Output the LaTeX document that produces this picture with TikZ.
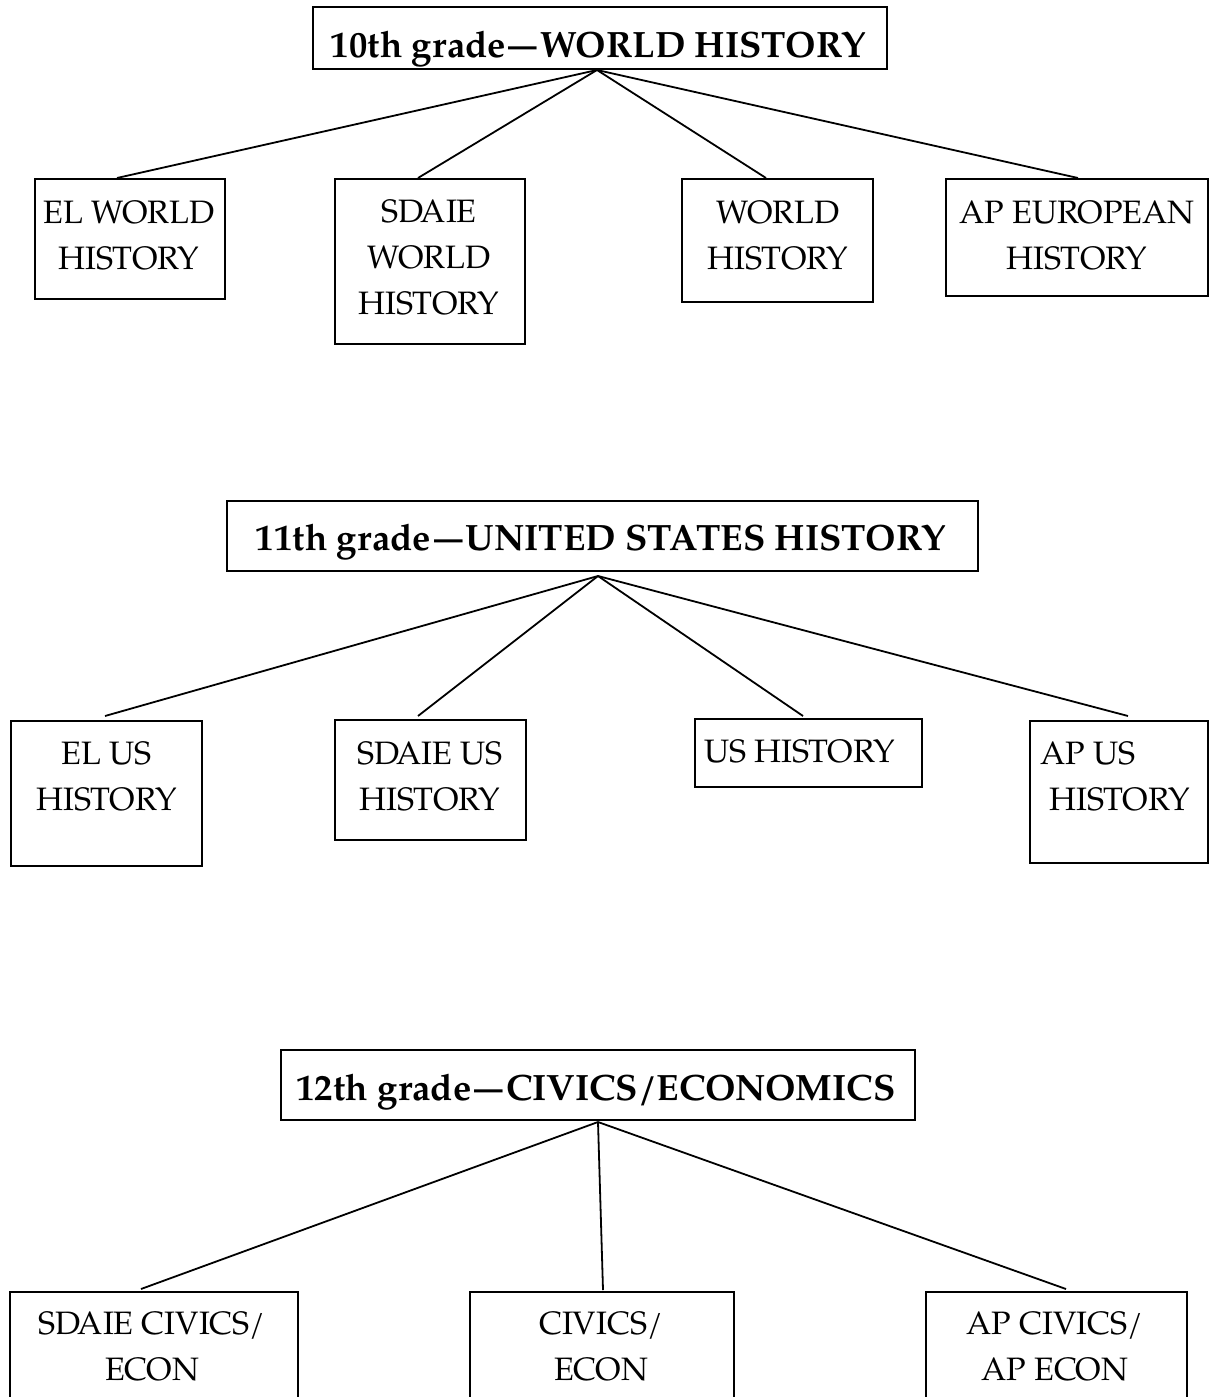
\documentclass[tikz,border=0pt]{standalone}
\usepackage{fontspec}
\setmainfont{texgyrepagella}[Extension=.otf,UprightFont=*-regular,BoldFont=*-bold,ItalicFont=*-italic,BoldItalicFont=*-bolditalic]
\usetikzlibrary{fit}
\newcommand{\gdash}{\kern1.5pt\scalebox{0.78}[1]{---}\kern1.5pt}
\tikzset{
  frame/.style={draw, line width=1.3pt, inner sep=0pt, rectangle},
  txt/.style={inner sep=0pt, align=center, font=\fontsize{16.2}{23}\selectfont},
  ttl/.style={inner sep=0pt, anchor=base, font=\fontsize{18.3}{22}\selectfont\bfseries},
  link/.style={line width=0.9pt},
}
\begin{document}
\begin{tikzpicture}[x=0.5pt,y=-0.5pt]
\clip (0,0) rectangle (1211,1397);
\fill[white] (0,0) rectangle (1211,1397);

% ---------- 10th grade ----------
\node[frame, fit={(313,7) (887,69)}] (T1) {};
\node[ttl] (T1t) at (598.5,57) {10th grade\gdash WORLD HISTORY};
\node[frame, fit={(35,179) (225,299)}] (A1) {};
\node[frame, fit={(335,179) (525,344)}] (A2) {};
\node[frame, fit={(682,179) (873,302)}] (A3) {};
\node[frame, fit={(946,179) (1208,296)}] (A4) {};
\node[txt] (A1t) at (129,235) {EL WORLD\\HISTORY};
\node[txt] (A2t) at (429,257.5) {SDAIE\\WORLD\\HISTORY};
\node[txt] (A3t) at (778,235) {WORLD\\HISTORY};
\node[txt] (A4t) at (1077,235) {AP EUROPEAN\\HISTORY};
\coordinate (o1) at (597,70);
\coordinate (a1) at (117,178);
\coordinate (a2) at (418,178);
\coordinate (a3) at (766,178);
\coordinate (a4) at (1078,178);
\draw[link] (o1) -- (a1);
\draw[link] (o1) -- (a2);
\draw[link] (o1) -- (a3);
\draw[link] (o1) -- (a4);

% ---------- 11th grade ----------
\node[frame, fit={(227,501) (978,571)}] (T2) {};
\node[ttl] (T2t) at (601,550) {11th grade\gdash UNITED STATES HISTORY};
\node[frame, fit={(11,721) (202,866)}] (B1) {};
\node[frame, fit={(335,720) (526,840)}] (B2) {};
\node[frame, fit={(695,719) (922,787)}] (B3) {};
\node[frame, fit={(1030,721) (1208,863)}] (B4) {};
\node[txt] (B1t) at (106.5,776.5) {EL US\\HISTORY};
\node[txt] (B2t) at (430,776.5) {SDAIE US\\HISTORY};
\node[txt, anchor=base] (B3t) at (799.5,762) {US HISTORY};
\node[txt, align=left, anchor=west] (B4t) at (1040,776.5) {AP US\\\hspace*{4.5pt}HISTORY};
\coordinate (o2) at (598,576);
\coordinate (b1) at (105,716);
\coordinate (b2) at (418,716);
\coordinate (b3) at (803,716);
\coordinate (b4) at (1128,716);
\draw[link] (o2) -- (b1);
\draw[link] (o2) -- (b2);
\draw[link] (o2) -- (b3);
\draw[link] (o2) -- (b4);

% ---------- 12th grade ----------
\node[frame, fit={(281,1050) (915,1120)}] (T3) {};
\node[ttl] (T3t) at (596,1100) {12th grade\gdash CIVICS/ECONOMICS};
\node[frame, fit={(10,1292) (298,1430)}] (C1) {};
\node[frame, fit={(470,1292) (734,1430)}] (C2) {};
\node[frame, fit={(926,1292) (1187,1430)}] (C3) {};
\node[txt] (C1t) at (152,1346.5) {SDAIE CIVICS/\\ECON};
\node[txt] (C2t) at (601,1346.5) {CIVICS/\\ECON};
\node[txt] (C3t) at (1055,1346.5) {AP CIVICS/\\AP ECON};
\coordinate (o3) at (598,1122);
\coordinate (c1) at (141,1289);
\coordinate (c2) at (603,1290);
\coordinate (c3) at (1066,1289);
\draw[link] (o3) -- (c1);
\draw[link] (o3) -- (c2);
\draw[link] (o3) -- (c3);
\end{tikzpicture}
\end{document}
